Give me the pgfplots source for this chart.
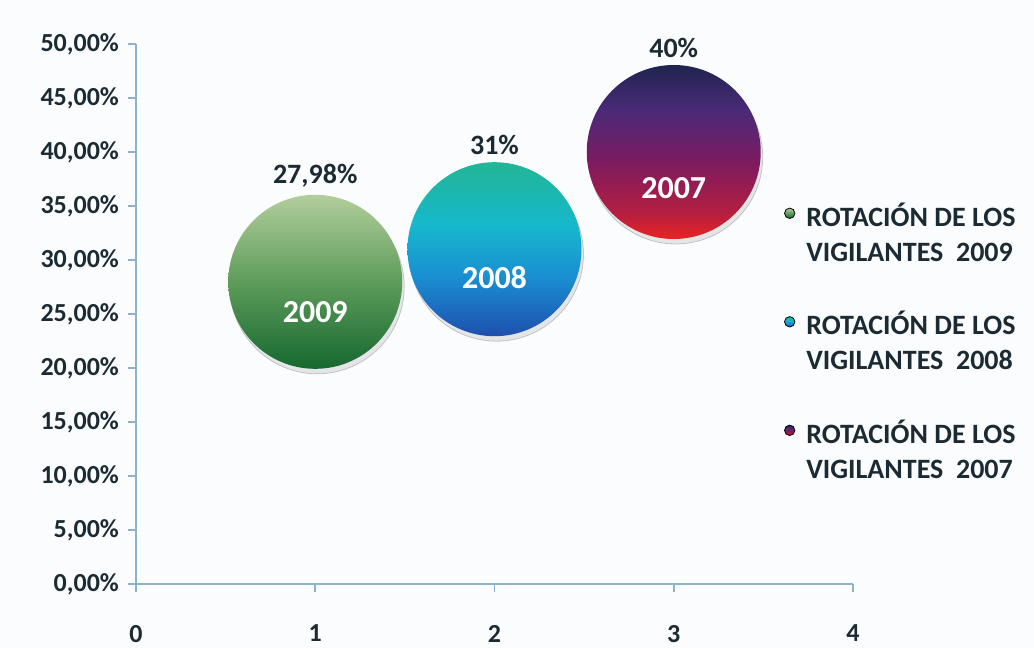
\documentclass[border=0pt]{standalone}
\usepackage{pgfplots}
\pgfplotsset{compat=1.18}
\usepackage{fontspec}
\setmainfont{Carlito}
\usetikzlibrary{shadows}

\definecolor{txt}{HTML}{1C2B33}
\definecolor{axl}{HTML}{8DB2CB}
\definecolor{bg}{HTML}{FBFCFE}
% 2009 greens
\definecolor{gA}{HTML}{B2CE9C}
\definecolor{gB}{HTML}{5E9C5A}
\definecolor{gC}{HTML}{166830}
% 2008 teal/blue
\definecolor{bA}{HTML}{22B596}
\definecolor{bB}{HTML}{16B8CC}
\definecolor{bC}{HTML}{1A8ED2}
\definecolor{bD}{HTML}{1E4FAE}
% 2007 navy/purple/red
\definecolor{pA}{HTML}{20244E}
\definecolor{pB}{HTML}{4A2A78}
\definecolor{pC}{HTML}{7A1B62}
\definecolor{pD}{HTML}{B21E42}
\definecolor{pE}{HTML}{E82422}

\pgfdeclareverticalshading{s09}{100bp}{color(0bp)=(gC); color(25bp)=(gC); color(50bp)=(gB); color(75bp)=(gA); color(100bp)=(gA)}
\pgfdeclareverticalshading{s08}{100bp}{color(0bp)=(bD); color(25bp)=(bD); color(42bp)=(bC); color(57bp)=(bB); color(75bp)=(bA); color(100bp)=(bA)}
\pgfdeclareverticalshading{s07}{100bp}{color(0bp)=(pE); color(25bp)=(pE); color(33bp)=(pD); color(48bp)=(pC); color(62bp)=(pB); color(75bp)=(pA); color(100bp)=(pA)}

\pgfplotsset{
  bubble/.style n args={4}{
    only marks, mark=none,
    nodes near coords={},
    every node near coord/.style={
      circle, anchor=center, minimum size=87pt, inner sep=0pt,
      shade, shading=#1,
      drop shadow={shadow xshift=1pt, shadow yshift=-2.5pt, opacity=0.18},
      label={[text=white, font=\fontsize{16}{16}\selectfont\bfseries, yshift=-#4]center:#2},
      label={[text=txt, font=\fontsize{14}{14}\selectfont\bfseries]above:#3},
    },
    % two-line entry is centred on the baseline: lift the dot to the first line
    legend image code/.code={\shade[shading=#1] (0.3em,10pt) circle (2.6pt);},
  },
}

\begin{document}
\begin{tikzpicture}
\fill[bg] (-68pt,-32pt) rectangle (449pt,292pt);
\begin{axis}[
  scale only axis, width=358.5pt, height=270pt,
  xmin=0, xmax=4, ymin=0, ymax=50,
  axis lines*=left,
  axis line style={axl, line width=0.8pt},
  xtick={0,1,2,3,4},
  ytick={0,5,10,15,20,25,30,35,40,45,50},
  yticklabels={{0,00\%},{5,00\%},{10,00\%},{15,00\%},{20,00\%},{25,00\%},{30,00\%},{35,00\%},{40,00\%},{45,00\%},{50,00\%}},
  tick style={axl, line width=0.8pt},
  tick align=outside, major tick length=4pt,
  ticklabel style={font=\fontsize{13}{13}\selectfont\bfseries, text=txt},
  xticklabel style={yshift=-13pt},
  yticklabel style={xshift=-1pt},
  /pgf/number format/assume math mode=true,
  clip=false,
  legend cell align=left,
  legend style={at={(0.895,0.722)}, anchor=north west, draw=none, fill=none,
    font=\fontsize{14}{17.5}\selectfont\bfseries, text=txt,
    cells={align=left}, row sep=19.5pt,
    /tikz/every odd column/.style={column sep=3.5pt}},
]
\addplot[bubble={s09}{2009}{27,98\%}{15pt}] coordinates {(1,27.98)};
\addlegendentry{ROTACIÓN DE LOS\\VIGILANTES~ 2009}
\addplot[bubble={s08}{2008}{31\%}{14pt}] coordinates {(2,31)};
\addlegendentry{ROTACIÓN DE LOS\\VIGILANTES~ 2008}
\addplot[bubble={s07}{2007}{40\%}{18pt}] coordinates {(3,40)};
\addlegendentry{ROTACIÓN DE LOS\\VIGILANTES~ 2007}
\end{axis}
\pgfresetboundingbox
\path[use as bounding box] (-68pt,-32pt) rectangle (449pt,292pt);
\end{tikzpicture}
\end{document}
